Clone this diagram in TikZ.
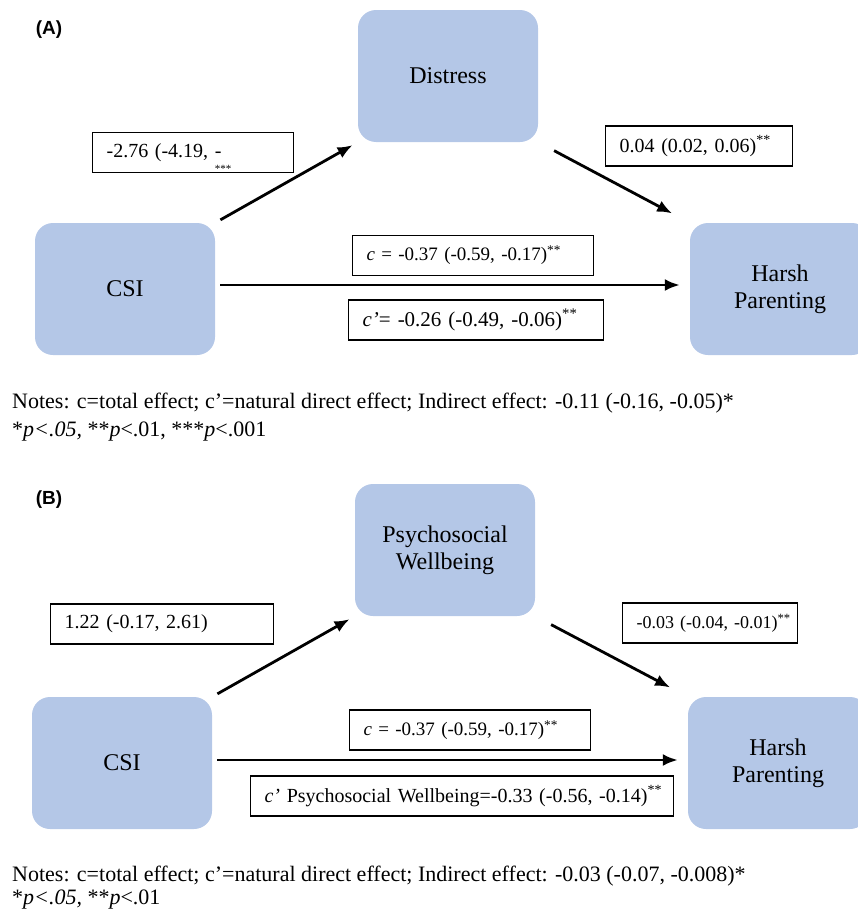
\documentclass[tikz,border=0pt]{standalone}
\usepackage{fontspec}
\setmainfont{Liberation Serif}
\newfontfamily\panelfont{Liberation Sans}
\usetikzlibrary{arrows.meta}
\definecolor{boxblue}{RGB}{180,199,231}
\begin{document}
\begin{tikzpicture}[x=1pt,y=-1pt,
	var/.style={fill=boxblue, rounded corners=18pt, minimum width=180pt, minimum height=132pt, align=center, font=\fontsize{24}{27}\selectfont},
	lbl/.style={draw, fill=white, line width=1.2pt, minimum height=40pt, inner xsep=14pt, anchor=west, align=left, font=\fontsize{20}{23}\selectfont},
	arr/.style={line width=2.8pt, -{Latex[length=15pt,width=12pt]}},
	note/.style={anchor=west, inner sep=0pt, font=\fontsize{22}{25}\selectfont},
	panel/.style={font=\panelfont\bfseries\fontsize{19}{21}\selectfont}]
	
	\clip (0,0) rectangle (858,910);
	
	% panel A
	\node[panel] (pA) at (49,30) {(A)};
	\node[var] (disA) at (448,76) {Distress};
	\node[var] (csiA) at (125,289) {CSI};
	\node[var] (harA) at (780,289) {Harsh\\Parenting};
	
	\path[arr, shorten <=6pt, shorten >=6pt] (csiA.north east) edge (disA.south west);
	\path[arr, shorten <=18pt, shorten >=20pt] (disA.south east) edge (harA.north west);
	\path[arr, shorten <=5pt, shorten >=10pt] ([yshift=4pt]csiA.east) edge ([yshift=4pt]harA.west);
	
	\node[lbl, text width=173pt] (aA) at (92,152.5) {\mbox{-2.76 (-4.19, -}};
	\node[font=\fontsize{11}{11}\selectfont, inner sep=0pt] (aAst) at (223,169) {***};
	\node[lbl, text width=159pt] (bA) at (605,146) {\mbox{0.04 (0.02, 0.06)\textsuperscript{**}}};
	\node[lbl, text width=213pt, font=\fontsize{19}{22}\selectfont] (cA) at (352,255.5) {\mbox{\textit{c} = -0.37 (-0.59, -0.17)\textsuperscript{**}}};
	\node[lbl, text width=227pt, font=\fontsize{21}{24}\selectfont] (dA) at (348,320) {\mbox{\textit{c’}= -0.26 (-0.49, -0.06)\textsuperscript{**}}};
	
	\node[note] (nA1) at (12,403) {Notes: c=total effect; c’=natural direct effect; Indirect effect: -0.11 (-0.16, -0.05)*};
	\node[note] (nA2) at (12,432) {*\textit{p<.05,} **\textit{p}<.01, ***\textit{p}<.001};
	
	% panel B
	\node[panel] (pB) at (49,500) {(B)};
	\node[var] (pwB) at (445,550) {Psychosocial\\Wellbeing};
	\node[var] (csiB) at (122,763) {CSI};
	\node[var] (harB) at (778,763) {Harsh\\Parenting};
	
	\path[arr, shorten <=6pt, shorten >=6pt] (csiB.north east) edge (pwB.south west);
	\path[arr, shorten <=18pt, shorten >=20pt] (pwB.south east) edge (harB.north west);
	\path[arr, shorten <=5pt, shorten >=10pt] ([yshift=3pt]csiB.east) edge ([yshift=3pt]harB.west);
	
	\node[lbl, text width=195pt] (aB) at (50,624) {\mbox{1.22 (-0.17, 2.61)}};
	\node[lbl, text width=147pt, font=\fontsize{18}{21}\selectfont] (bB) at (622,623) {\mbox{-0.03 (-0.04, -0.01)\textsuperscript{**}}};
	\node[lbl, text width=213pt, font=\fontsize{19}{22}\selectfont] (cB) at (349,730) {\mbox{\textit{c} = -0.37 (-0.59, -0.17)\textsuperscript{**}}};
	\node[lbl, text width=395pt] (dB) at (250,796) {\mbox{\textit{c’} Psychosocial Wellbeing=-0.33 (-0.56, -0.14)\textsuperscript{**}}};
	
	\node[note] (nB1) at (12,876) {Notes: c=total effect; c’=natural direct effect; Indirect effect: -0.03 (-0.07, -0.008)*};
	\node[note] (nB2) at (12,900) {*\textit{p<.05,} **\textit{p}<.01};

\end{tikzpicture}
\end{document}
